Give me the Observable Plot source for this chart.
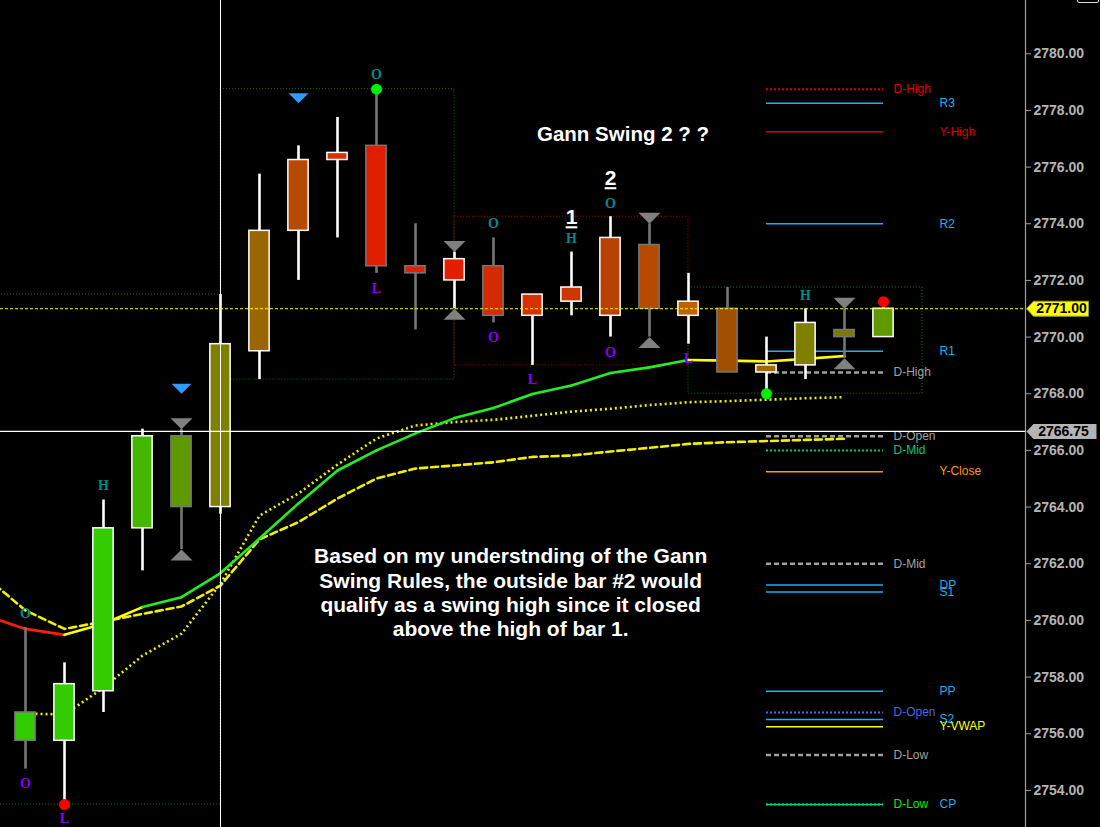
<!DOCTYPE html>
<html><head><meta charset="utf-8">
<script src="https://cdn.jsdelivr.net/npm/d3@7"></script>
<script src="https://cdn.jsdelivr.net/npm/@observablehq/plot@0.6"></script>
<style>
html,body{margin:0;padding:0;background:#000;overflow:hidden}
#chart{position:relative;width:1100px;height:827px}
#btn{position:absolute;left:1077px;top:-9px;width:20px;height:10px;border:1px solid #dcdcdc;border-radius:2px}
#chart svg [aria-label^="y-axis"] text{font:bold 14px "Liberation Sans",Arial,sans-serif;fill:#b4b4b4}
#chart svg [aria-label^="y-axis"] path,#chart svg [aria-label^="y-axis"] line{stroke:#a0a0a0}
</style></head><body><div id="chart"><div id="btn"></div></div>
<script>
// ---------- data ----------
const bars = d3.range(23);
const candleOpen  = [2755.75,2755.75,2757.5,2763.25,2764.0,2764.0,2769.5,2773.75,2776.5,2776.75,2772.5,2772.75,2772.5,2771.5,2771.25,2770.75,2773.25,2771.25,2771.0,2769.0,2769.0,2770.0,2770.0];
const candleHigh  = [2759.75,2758.5,2764.25,2766.75,2766.75,2771.5,2775.75,2776.75,2777.75,2778.75,2774.0,2773.0,2773.5,2771.5,2773.0,2774.25,2774.0,2772.25,2771.75,2770.0,2771.0,2771.0,2771.25];
const candleLow   = [2754.75,2753.5,2756.75,2761.75,2762.5,2763.75,2768.5,2772.0,2773.5,2772.25,2770.25,2771.0,2770.5,2769.0,2770.75,2770.0,2770.0,2769.75,2768.75,2768.0,2768.5,2769.25,2770.0];
const candleClose = [2756.75,2757.75,2763.25,2766.5,2766.5,2769.75,2773.75,2776.25,2776.25,2772.5,2772.25,2772.0,2770.75,2770.75,2771.75,2773.5,2771.0,2770.75,2768.75,2768.75,2770.5,2770.25,2771.0];
const barFill = ["#33cc00","#33cc00","#33cc00","#44b800","#5f9900","#808000","#996600","#b84a00","#d83000","#e01e00","#e02000","#e02000","#d42a00","#d83000","#cc3800","#b84000","#b84a00","#c06000","#a05000","#a86800","#808000","#7a7a00","#5f9a00"];
const barEdge = ["#767676","#ffffff","#ffffff","#ffffff","#767676","#ffffff","#ffffff","#ffffff","#ffffff","#767676","#767676","#ffffff","#767676","#ffffff","#ffffff","#ffffff","#767676","#ffffff","#767676","#ffffff","#ffffff","#767676","#ffffff"];

// moving averages (index -1 .. 21)
const maIndex = d3.range(-1, 22);
const solidMA  = [2760.16,2759.70,2759.49,2759.88,2760.47,2760.82,2761.67,2762.89,2764.13,2765.29,2766.00,2766.60,2767.14,2767.50,2767.99,2768.29,2768.73,2768.93,2769.19,2769.17,2769.14,2769.23,2769.33];
const maState  = ["down","down","down","flat","flat","up","up","up","up","up","up","up","up","up","up","up","up","up","up","flat","flat","flat","flat"];
const dashedMA = [2761.51,2760.35,2759.70,2759.96,2760.23,2760.49,2761.23,2762.86,2763.47,2764.30,2765.01,2765.36,2765.47,2765.58,2765.77,2765.82,2765.96,2766.09,2766.23,2766.29,2766.33,2766.37,2766.41];
const dottedIndex = d3.range(0, 22);
const dottedMA = [2756.71,2756.68,2757.62,2758.76,2759.53,2761.29,2763.70,2764.48,2765.50,2766.42,2766.88,2767.00,2767.08,2767.22,2767.37,2767.47,2767.60,2767.70,2767.74,2767.79,2767.84,2767.88];

// markers
const hourglassBars = [4, 11, 16, 21];
const blueBars = [4, 7];
const blueLevel = [2768.0, 2778.25];
const dotBars = [1, 9, 19, 22];
const dotLevel = [2753.5, 2778.75, 2768.0, 2771.25];
const dotColor = ["#ff0000", "#00ee00", "#00ee00", "#ff0000"];

const labelBars  = [0, 0, 1, 2, 9, 9, 12, 12, 13, 14, 15, 15, 17, 20];
const labelText  = ["O","O","L","H","O","L","O","O","L","H","O","O","L","H"];
const labelLevel = [2760.24,2754.23,2753.0,2764.75,2779.25,2771.72,2774.01,2770.0,2768.5,2773.49,2774.73,2769.47,2769.25,2771.48];
const labelSide  = ["top","bot","bot","top","top","bot","top","bot","bot","top","top","bot","bot","top"];

const swingBars = [14, 15];
const swingText = ["1", "2"];
const swingLevel = [2774.22, 2775.6];

// swing boxes
const boxStart = [-1, 5, 11, 17];
const boxEnd   = [5, 11, 17, 23];
const boxLow   = [2753.5, 2768.5, 2769.0, 2768.0];
const boxHigh  = [2771.5, 2778.75, 2774.25, 2771.75];
const boxColor = ["#007a00", "#007a00", "#b00000", "#007a00"];

// right-side levels
const levelName   = ["D-High","R3","Y-High","R2","R1","D-High","D-Open","D-Mid","Y-Close","D-Mid","DP","S1","PP","D-Open","S2","Y-VWAP","D-Low","CP","D-Low"];
const levelPrice  = [2778.75,2778.25,2777.25,2774.0,2769.5,2768.75,2766.5,2766.0,2765.25,2762.0,2761.25,2761.0,2757.5,2756.75,2756.5,2756.25,2755.25,2753.5,2753.5];
const levelColor  = ["#e00000","#1ab0f5","#dd0000","#1ab0f5","#1ab0f5","#a0a0a0","#a0a0a0","#00c87a","#ff9900","#a0a0a0","#1ab0f5","#1ab0f5","#1ab0f5","#4a64e6","#1ab0f5","#ffff00","#a0a0a0","#1ab0f5","#00ee00"];
const levelStyle  = ["dot","solid","solid","solid","solid","dash","dash","dot","solid","dash","solid","solid","solid","dot","solid","solid","dash","solid","dot"];
const levelColumn = [1,2,2,2,2,1,1,1,2,1,2,2,2,1,2,2,1,2,1];
const levelFrom = 19, levelTo = 22;

const lastPrice = 2771.0, lastLabel = "2771.00";
const crossBar = 5, crossPrice = 2766.67, crossLabel = "2766.75";
const yTicks = d3.range(2754, 2781, 2);

const title = "Gann Swing 2 ? ?";
const note = "Based on my understnding of the Gann\nSwing Rules, the outside bar #2 would\nqualify as a swing high since it closed\nabove the high of bar 1.";

// ---------- scale calibration ----------
const xDomain = [-25 / 39, 1000 / 39];
const yDomain = [2752.69, 2781.88];
const SANS = "'Liberation Sans', Arial, sans-serif";
const SERIF = "'Liberation Serif', 'Times New Roman', serif";

// ---------- derived tables ----------
const candles = bars.map(i => ({i, o: candleOpen[i], h: candleHigh[i], l: candleLow[i], c: candleClose[i], fill: barFill[i], edge: barEdge[i]}));
const stateColor = {down: "#ff2000", flat: "#ffff00", up: "#22ee22"};
const segs = maIndex.slice(1).map((k, j) => ({x1: maIndex[j], y1: solidMA[j], x2: k, y2: solidMA[j + 1], c: stateColor[maState[j + 1]]}));
const dashed = maIndex.map((k, j) => ({k, v: dashedMA[j]}));
const dotted = dottedIndex.map((k, j) => ({k, v: dottedMA[j]}));
const hourglass = hourglassBars.flatMap(i => [{i, v: candleHigh[i], up: false}, {i, v: candleLow[i], up: true}]);
const blues = blueBars.map((i, j) => ({i, v: blueLevel[j]}));
const dots = dotBars.map((i, j) => ({i, v: dotLevel[j], c: dotColor[j]}));
const labels = labelBars.map((i, j) => ({i, t: labelText[j], v: labelLevel[j], c: labelSide[j] === "top" ? "#008b8b" : "#8a00e6"}));
const swings = swingBars.map((i, j) => ({i, t: swingText[j], v: swingLevel[j]}));
const boxes = boxStart.map((s, j) => ({x1: s, x2: boxEnd[j], y1: boxLow[j], y2: boxHigh[j], c: boxColor[j]}));
const levels = levelName.map((n, j) => ({n, v: levelPrice[j], c: levelColor[j], s: levelStyle[j], col: levelColumn[j]}));

// ---------- custom symbols ----------
const triDown = (w, h) => ({draw(ctx) { ctx.moveTo(-w, -h); ctx.lineTo(w, -h); ctx.lineTo(0, 0); ctx.closePath(); }});
const triUp = (w, h) => ({draw(ctx) { ctx.moveTo(-w, h); ctx.lineTo(w, h); ctx.lineTo(0, 0); ctx.closePath(); }});
const tag = (w) => ({draw(ctx) { ctx.moveTo(1, 0); ctx.lineTo(8, -7.5); ctx.lineTo(w, -7.5); ctx.lineTo(w, 7.5); ctx.lineTo(8, 7.5); ctx.closePath(); }});

const levelMarks = [
  Plot.ruleY(levels.filter(d => d.s === "solid"), {y: "v", x1: levelFrom, x2: levelTo, stroke: "c", strokeWidth: 1.5}),
  Plot.ruleY(levels.filter(d => d.s === "dash"), {y: "v", x1: levelFrom, x2: levelTo, stroke: "c", strokeWidth: 2.6, strokeDasharray: "5,3"}),
  Plot.ruleY(levels.filter(d => d.s === "dot"), {y: "v", x1: levelFrom, x2: levelTo, stroke: "c", strokeWidth: 2, strokeDasharray: "2,2"}),
  Plot.text(levels.filter(d => d.col === 1), {x: levelTo, y: "v", text: "n", fill: "c", dx: 10, textAnchor: "start", fontSize: 12, fontWeight: "normal", fontFamily: SANS}),
  Plot.text(levels.filter(d => d.col === 2), {x: levelTo, y: "v", text: "n", fill: "c", dx: 56, textAnchor: "start", fontSize: 12, fontWeight: "normal", fontFamily: SANS})
];

const chart = Plot.plot({
  width: 1100, height: 827,
  marginLeft: 0, marginRight: 75, marginTop: 0, marginBottom: 0,
  style: {background: "#000", color: "#b4b4b4", fontFamily: SANS, fontSize: "14px", fontWeight: "bold", overflow: "hidden"},
  x: {domain: xDomain, axis: null},
  y: {domain: yDomain, axis: "right", ticks: yTicks, tickFormat: d => d.toFixed(2), tickSize: 5, tickPadding: 3, label: null},
  marks: [
    Plot.rect(boxes, {x1: "x1", x2: "x2", y1: "y1", y2: "y2", fill: "none", stroke: "c", strokeWidth: 1, strokeDasharray: "1,2"}),
    ...levelMarks,
    Plot.line(dotted, {x: "k", y: "v", stroke: "#f0f000", strokeWidth: 2.6, strokeDasharray: "2,3", strokeLinecap: "butt"}),
    Plot.line(dashed, {x: "k", y: "v", stroke: "#f0f000", strokeWidth: 2.6, strokeDasharray: "7,4"}),
    Plot.link(segs, {x1: "x1", y1: "y1", x2: "x2", y2: "y2", stroke: "c", strokeWidth: 2.6, strokeLinecap: "round"}),
    Plot.ruleX(candles, {x: "i", y1: "l", y2: "h", stroke: "edge", strokeWidth: 2.6}),
    Plot.rect(candles, {x1: d => d.i - 0.26, x2: d => d.i + 0.26, y1: "o", y2: "c", fill: "fill", stroke: "edge", strokeWidth: 1.5}),
    Plot.dot(hourglass.filter(d => !d.up), {x: "i", y: "v", symbol: triDown(11, 11), fill: "#808080", stroke: "none"}),
    Plot.dot(hourglass.filter(d => d.up), {x: "i", y: "v", symbol: triUp(11, 11), fill: "#808080", stroke: "none"}),
    Plot.dot(blues, {x: "i", y: "v", symbol: triDown(10, 10), fill: "#3399ff", stroke: "none"}),
    Plot.dot(dots, {x: "i", y: "v", r: 5.5, fill: "c", stroke: "none"}),
    Plot.text(labels, {x: "i", y: "v", text: "t", fill: "c", fontSize: 14, fontWeight: "bold", fontFamily: SERIF}),
    Plot.text(swings, {x: "i", y: "v", text: "t", fill: "#ffffff", fontSize: 21, fontWeight: "bold", fontFamily: SANS}),
    Plot.ruleX([crossBar], {stroke: "#ffffff", strokeWidth: 1}),
    Plot.ruleY([crossPrice], {stroke: "#ffffff", strokeWidth: 1.2}),
    Plot.ruleY([lastPrice], {stroke: "#ffff00", strokeWidth: 1, strokeDasharray: "3,2"}),
    Plot.ruleX([xDomain[1]], {stroke: "#a0a0a0", strokeWidth: 1.2}),
    Plot.dot([{v: lastPrice}], {x: () => xDomain[1], y: "v", symbol: tag(63), fill: "#ffff00", stroke: "#9a9a40", strokeWidth: 1}),
    Plot.text([{v: lastPrice, t: lastLabel}], {x: () => xDomain[1], y: "v", text: "t", dx: 36, fill: "#000", fontSize: 14, fontWeight: "bold", fontFamily: SANS}),
    Plot.dot([{v: crossPrice}], {x: () => xDomain[1], y: "v", symbol: tag(71), fill: "#b4b4b4", stroke: "none"}),
    Plot.text([{v: crossPrice, t: crossLabel}], {x: () => xDomain[1], y: "v", text: "t", dx: 38, fill: "#000", fontSize: 14, fontWeight: "bold", fontFamily: SANS}),
    Plot.text([title], {x: () => 15.32, y: () => 2777.15, text: d => d, fill: "#ffffff", fontSize: 20.5, fontWeight: "bold", fontFamily: SANS}),
    Plot.text([note], {x: () => 12.44, y: () => 2761.0, text: d => d, fill: "#ffffff", fontSize: 21, fontWeight: "bold", fontFamily: SANS, lineHeight: 1.16, lineAnchor: "middle", textAnchor: "middle"})
  ]
});
document.getElementById("chart").append(chart);
chart.querySelectorAll("text").forEach(t => {
  if (swingText.includes(t.textContent)) t.style.textDecoration = "underline";
});
</script>
</body></html>
